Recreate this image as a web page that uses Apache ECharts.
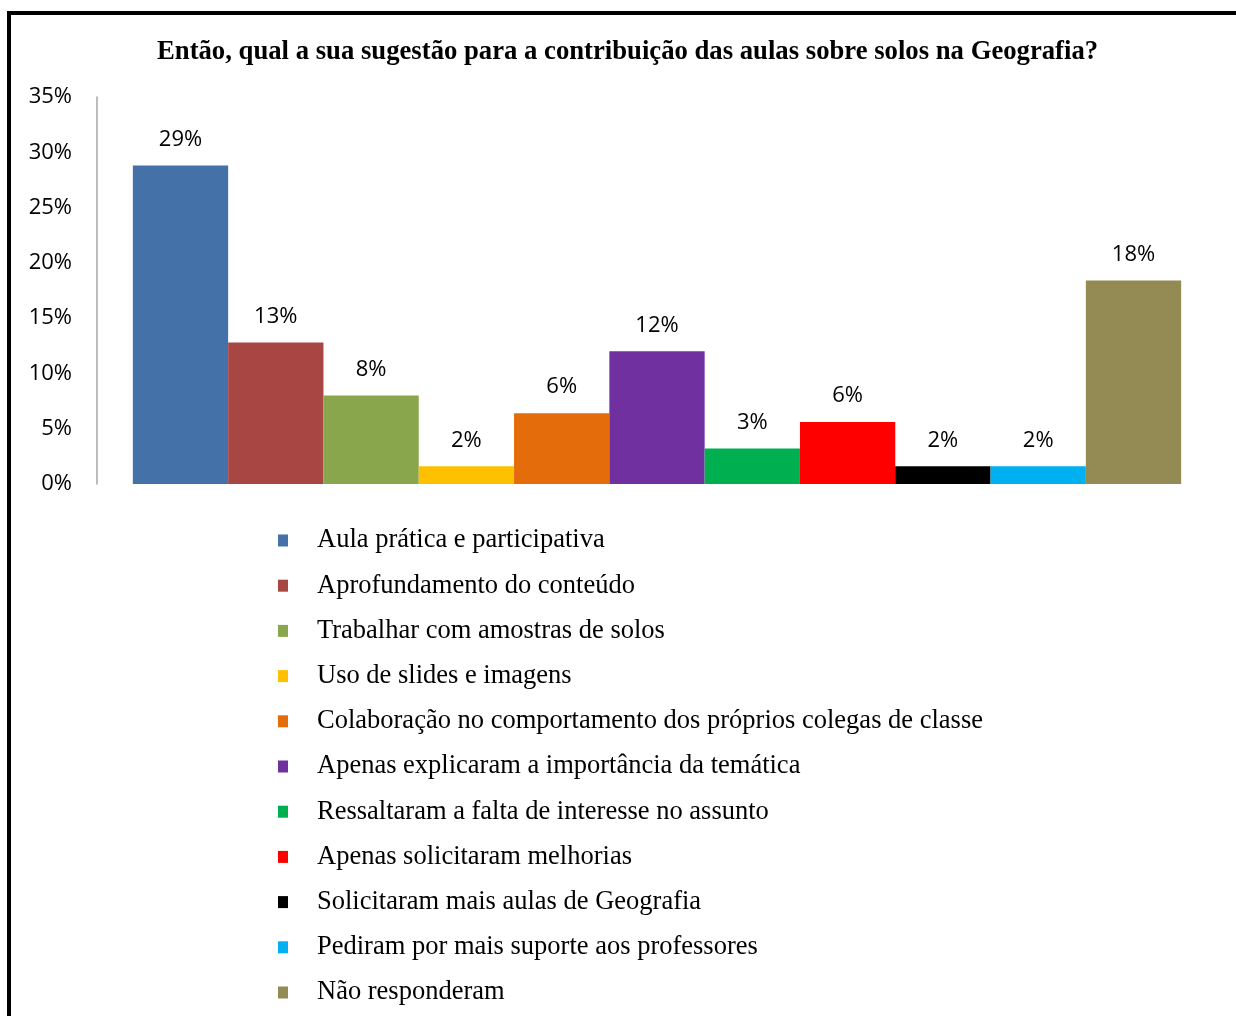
<!DOCTYPE html>
<html>
<head>
<meta charset="utf-8">
<script src="https://cdn.jsdelivr.net/npm/echarts@6/dist/echarts.min.js"></script>
<style>
  html, body { margin: 0; padding: 0; background: #fff; }
  #main { width: 1236px; height: 1016px; }
</style>
</head>
<body>
<div id="main"></div>
<script>
var categories = [
    'Aula prática e participativa',
    'Aprofundamento do conteúdo',
    'Trabalhar com amostras de solos',
    'Uso de slides e imagens',
    'Colaboração no comportamento dos próprios colegas de classe',
    'Apenas explicaram a importância da temática',
    'Ressaltaram a falta de interesse no assunto',
    'Apenas solicitaram melhorias',
    'Solicitaram mais aulas de Geografia',
    'Pediram por mais suporte aos professores',
    'Não responderam'
];
var values = [0.288, 0.128, 0.080, 0.016, 0.064, 0.120, 0.032, 0.056, 0.016, 0.016, 0.184];
var colors = ['#4472a8', '#a84644', '#8aa64d', '#ffc000', '#e46c0a', '#7030a0', '#00b050', '#ff0000', '#000000', '#00b0f0', '#948a54'];

initChart();

function initChart() {

    var chartDom = document.getElementById('main');
    var myChart = echarts.init(chartDom);
    var option;

    var series = categories.map(function (name, i) {
        return {
            name: name,
            type: 'bar',
            data: [values[i]],
            barGap: '0%',
            barCategoryGap: '6.4%',
            itemStyle: { color: colors[i] },
            label: {
                show: true,
                position: 'top',
                distance: 15,
                fontFamily: 'Open Sans',
                fontSize: 22,
                color: '#000',
                formatter: function (p) {
                    return Math.round(p.value * 100) + '%';
                }
            }
        };
    });

    option = {
        animation: false,
        title: {
            text: 'Então, qual a sua sugestão para a contribuição das aulas sobre solos na Geografia?',
            left: 152,
            top: 34,
            textStyle: {
                fontFamily: 'Liberation Serif',
                fontWeight: 'bold',
                fontSize: 26.7,
                color: '#000'
            }
        },
        graphic: [
            {
                type: 'line',
                shape: { x1: 7, y1: 13, x2: 1236, y2: 13 },
                style: { stroke: '#000', lineWidth: 4 }
            },
            {
                type: 'line',
                shape: { x1: 9, y1: 11, x2: 9, y2: 1016 },
                style: { stroke: '#000', lineWidth: 4 }
            }
        ],
        legend: {
            orient: 'vertical',
            left: 273,
            top: 522,
            height: 600,
            icon: 'rect',
            itemWidth: 10,
            itemHeight: 12,
            itemGap: 18.2,
            data: categories,
            textStyle: {
                fontFamily: 'Liberation Serif',
                fontSize: 26.5,
                lineHeight: 25,
                color: '#000',
                padding: [0, 0, 0, 24]
            }
        },
        grid: {
            left: 97,
            right: 19,
            top: 97,
            bottom: 532,
            containLabel: false
        },
        xAxis: {
            type: 'category',
            data: [''],
            axisLine: { show: false },
            axisTick: { show: false },
            axisLabel: { show: false }
        },
        yAxis: {
            type: 'value',
            min: 0,
            max: 0.35,
            interval: 0.05,
            axisLine: { show: true, lineStyle: { color: '#a6a6a6', width: 1.5 } },
            axisTick: { show: false },
            splitLine: { show: false },
            axisLabel: {
                margin: 25,
                fontFamily: 'Open Sans',
                fontSize: 22,
                color: '#000',
                formatter: function (v) {
                    return Math.round(v * 100) + '%';
                }
            }
        },
        series: series
    };

    option && myChart.setOption(option);

}
</script>
</body>
</html>
